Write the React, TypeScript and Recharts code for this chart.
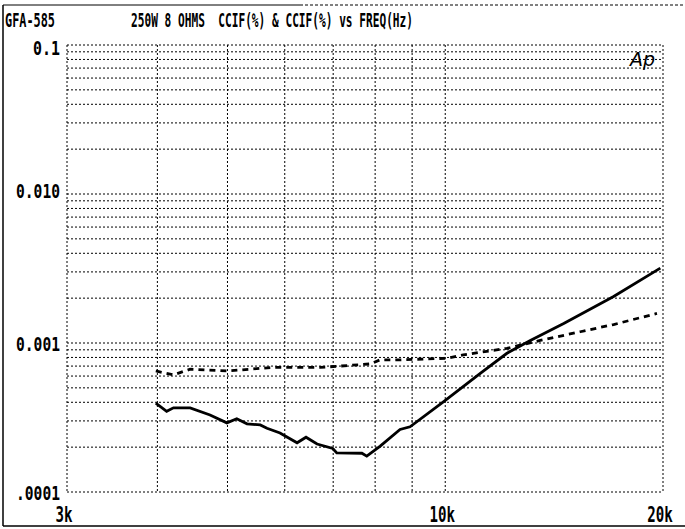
import { LineChart, Line, XAxis, YAxis, CartesianGrid } from 'recharts';

// solid trace (upper curve at HF)
const solidFreq = [3980, 4120, 4210, 4440, 4730, 4990, 5150, 5320, 5550, 5670, 5910, 6240, 6420, 6650, 6990, 7080, 7670, 7790, 8130, 8660, 8940, 9950, 11180, 12170, 13110, 14580, 17090, 19830];
const solidVal = [3.95e-4, 3.48e-4, 3.67e-4, 3.67e-4, 3.29e-4, 2.91e-4, 3.1e-4, 2.87e-4, 2.82e-4, 2.68e-4, 2.49e-4, 2.14e-4, 2.33e-4, 2.1e-4, 1.96e-4, 1.83e-4, 1.82e-4, 1.74e-4, 2.03e-4, 2.63e-4, 2.74e-4, 4.04e-4, 6.26e-4, 8.53e-4, 1.04e-3, 1.35e-3, 2.05e-3, 3.18e-3];

// dashed trace
const dashFreq = [3980, 4210, 4440, 4990, 5780, 6720, 7160, 7880, 8130, 8660, 10050, 10590, 12170, 13530, 15370, 17090, 19620];
const dashVal = [6.49e-4, 6.11e-4, 6.67e-4, 6.49e-4, 6.86e-4, 6.86e-4, 7.0e-4, 7.24e-4, 7.71e-4, 7.71e-4, 7.9e-4, 8.32e-4, 9.21e-4, 1.04e-3, 1.19e-3, 1.33e-3, 1.58e-3];

const xTicks = [3000, 4000, 5000, 6000, 7000, 8000, 9000, 10000, 20000];
const yTicks = [
  0.0001, 0.0002, 0.0003, 0.0004, 0.0005, 0.0006, 0.0007, 0.0008, 0.0009,
  0.001, 0.002, 0.003, 0.004, 0.005, 0.006, 0.007, 0.008, 0.009,
  0.01, 0.02, 0.03, 0.04, 0.05, 0.06, 0.07, 0.08, 0.09, 0.1,
];
const xLabels: Record<number, string> = { 3000: '3k', 10000: '10k', 20000: '20k' };
const yLabels = [
  { v: 0.1, t: '0.1', dy: 4, len: 27 },
  { v: 0.01, t: '0.010', dy: -2, len: 44 },
  { v: 0.001, t: '0.001', dy: 2, len: 44 },
  { v: 0.0001, t: '.0001', dy: 2, len: 44 },
];

const solidData = solidFreq.map((f, i) => ({ f, v: solidVal[i] }));
const dashData = dashFreq.map((f, i) => ({ f, v: dashVal[i] }));

const font = '"DejaVu Sans Mono", monospace';

function YTick(props: any) {
  const { y, payload } = props;
  const lab = yLabels.find((l) => Math.abs(l.v - payload.value) / l.v < 1e-6);
  if (!lab) return null;
  return (
    <text
      x={60}
      y={y + lab.dy}
      textAnchor="end"
      dominantBaseline="middle"
      fontFamily={font}
      fontWeight="bold"
      fontSize={20}
      textLength={lab.len}
      lengthAdjust="spacingAndGlyphs"
      fill="#000"
    >
      {lab.t}
    </text>
  );
}

function XTick(props: any) {
  const { x, payload } = props;
  const t = xLabels[payload.value];
  if (!t) return null;
  return (
    <text
      x={x - 3}
      y={516}
      textAnchor="middle"
      dominantBaseline="middle"
      fontFamily={font}
      fontWeight="bold"
      fontSize={21}
      textLength={t.length * 8.5}
      lengthAdjust="spacingAndGlyphs"
      fill="#000"
    >
      {t}
    </text>
  );
}

export default function App() {
  return (
    <div style={{ position: 'absolute', left: 0, top: 0, width: 685, height: 529, background: '#fff' }}>
      <LineChart
        width={685}
        height={529}
        margin={{ top: 45, right: 22, bottom: 0, left: 0 }}
      >
        <CartesianGrid stroke="#000" strokeDasharray="2 2" strokeWidth={1} />
        <XAxis
          dataKey="f"
          type="number"
          scale="log"
          domain={[3000, 20000]}
          ticks={xTicks}
          allowDataOverflow
          axisLine={false}
          tickLine={false}
          height={37}
          tick={<XTick />}
          interval={0}
        />
        <YAxis
          type="number"
          scale="log"
          domain={[0.0001, 0.1]}
          ticks={yTicks}
          allowDataOverflow
          axisLine={false}
          tickLine={false}
          width={67}
          tick={<YTick />}
          interval={0}
        />
        <Line
          data={solidData}
          dataKey="v"
          type="linear"
          stroke="#000"
          strokeWidth={2.8}
          dot={false}
          isAnimationActive={false}
        />
        <Line
          data={dashData}
          dataKey="v"
          type="linear"
          stroke="#000"
          strokeWidth={2.8}
          strokeDasharray="6 5"
          dot={false}
          isAnimationActive={false}
        />
      </LineChart>
      <svg
        width={685}
        height={529}
        style={{ position: 'absolute', left: 0, top: 0, pointerEvents: 'none' }}
      >
        <line x1={3} y1={5} x2={3} y2={526} stroke="#000" strokeWidth={1.5} />
        <line x1={3} y1={526} x2={685} y2={526} stroke="#000" strokeWidth={1.5} />
        <line x1={3} y1={5} x2={300} y2={5} stroke="#000" strokeWidth={1} />
        <line x1={300} y1={5} x2={685} y2={5} stroke="#000" strokeWidth={1} strokeDasharray="3 2" />
        <text x={5} y={27} fontFamily={font} fontWeight="bold" fontSize={20} textLength={50} lengthAdjust="spacingAndGlyphs">
          GFA-585
        </text>
        <text x={131} y={27} fontFamily={font} fontWeight="bold" fontSize={20} textLength={282} lengthAdjust="spacingAndGlyphs" xmlSpace="preserve">
          250W 8 OHMS  CCIF(%) &amp; CCIF(%) vs FREQ(Hz)
        </text>
        <text x={630} y={66} fontFamily='"DejaVu Sans", sans-serif' fontStyle="italic" fontSize={19}>
          Ap
        </text>
      </svg>
    </div>
  );
}
